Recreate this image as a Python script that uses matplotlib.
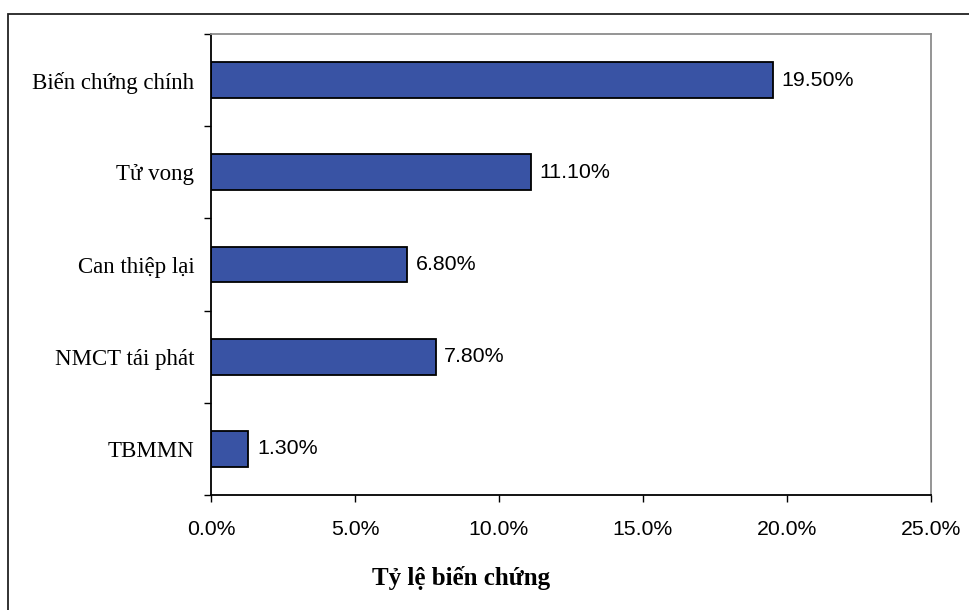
import numpy as np
import matplotlib.pyplot as plt
from matplotlib.patches import Rectangle
from matplotlib.ticker import FuncFormatter, FixedLocator

categories = ['Biến chứng chính', 'Tử vong', 'Can thiệp lại', 'NMCT tái phát', 'TBMMN']
rates = [19.5, 11.1, 6.8, 7.8, 1.3]
x_ticks = [0, 5, 10, 15, 20, 25]

serif = ['Liberation Serif', 'DejaVu Serif']
sans = ['Liberation Sans', 'DejaVu Sans']

fig = plt.figure(figsize=(9.69, 6.10), dpi=100)
ax = fig.add_axes([211 / 969, 1 - 495 / 610, 720 / 969, 461 / 610])

# outer frame, cropped on the right and bottom
fig.patches.append(Rectangle((8 / 969, -0.05), 1.1, 1 - 14 / 610 + 0.05,
                             transform=fig.transFigure, fill=False,
                             edgecolor='#222222', linewidth=1.3))

ypos = np.arange(len(categories))
ax.barh(ypos, rates, height=0.39, color='#3953A4', edgecolor='black', linewidth=1.3)

for y, v in zip(ypos, rates):
    ax.text(v + 0.3, y, f'{v:.2f}%', va='center', ha='left',
            fontsize=15.4, family=sans, color='black')

ax.set_xlim(0, 25)
ax.set_ylim(len(categories) - 0.5, -0.5)

ax.xaxis.set_major_locator(FixedLocator(x_ticks))
ax.xaxis.set_major_formatter(FuncFormatter(lambda v, p: f'{v:.1f}%'))
for lbl in ax.get_xticklabels():
    lbl.set_family(sans)
ax.tick_params(axis='x', length=5, width=1, pad=13, labelsize=15.3, color='black')

# ticks between categories, labels at category centres
ax.yaxis.set_major_locator(FixedLocator(np.arange(-0.5, len(categories), 1.0)))
ax.yaxis.set_major_formatter(FuncFormatter(lambda v, p: ''))
ax.yaxis.set_minor_locator(FixedLocator(ypos))
ax.set_yticklabels(categories, minor=True, family=serif, fontsize=16.5)
ax.tick_params(axis='y', which='major', length=5, width=1, color='black')
ax.tick_params(axis='y', which='minor', length=0, pad=12)

ax.spines['left'].set_color('black')
ax.spines['bottom'].set_color('black')
ax.spines['top'].set_color('#8c8c8c')
ax.spines['right'].set_color('#8c8c8c')
for s in ax.spines.values():
    s.set_linewidth(1.3)

fig.text((370 + 553) / 2 / 969, 1 - 578 / 610, 'Tỷ lệ biến chứng', ha='center', va='center',
         family=serif, fontsize=18, fontweight='bold')

fig.savefig('out.png', dpi=100)
